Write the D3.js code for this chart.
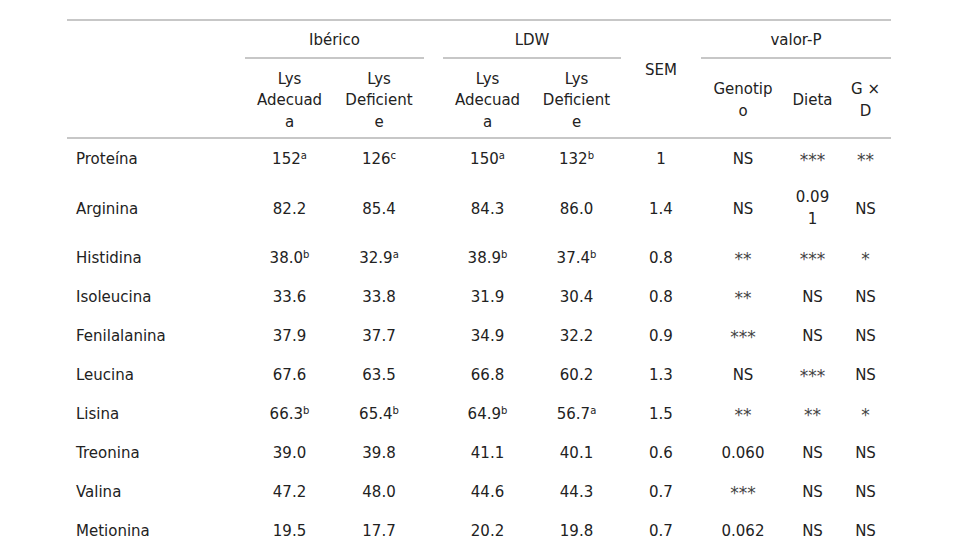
<!DOCTYPE html>
<html>
<head>
<meta charset="utf-8">
<script src="https://cdn.jsdelivr.net/npm/d3@7"></script>
<style>
  html, body { margin: 0; padding: 0; background: #fff; }
  svg text { font-family: "DejaVu Sans", Verdana, sans-serif; fill: #222; }
</style>
</head>
<body>
<svg id="chart" width="980" height="560"></svg>
<script>
// ---- data ----
const aminoacids = ["Proteína","Arginina","Histidina","Isoleucina","Fenilalanina","Leucina","Lisina","Treonina","Valina","Metionina"];
const ibAdec    = ["152","82.2","38.0","33.6","37.9","67.6","66.3","39.0","47.2","19.5"];
const ibAdecSup = ["a","","b","","","","b","","",""];
const ibDef     = ["126","85.4","32.9","33.8","37.7","63.5","65.4","39.8","48.0","17.7"];
const ibDefSup  = ["c","","a","","","","b","","",""];
const ldwAdec   = ["150","84.3","38.9","31.9","34.9","66.8","64.9","41.1","44.6","20.2"];
const ldwAdecSup= ["a","","b","","","","b","","",""];
const ldwDef    = ["132","86.0","37.4","30.4","32.2","60.2","56.7","40.1","44.3","19.8"];
const ldwDefSup = ["b","","b","","","","a","","",""];
const sem       = ["1","1.4","0.8","0.8","0.9","1.3","1.5","0.6","0.7","0.7"];
const pGenotipo = ["NS","NS","**","**","***","NS","**","0.060","***","0.062"];
const pDieta    = ["***","0.091","***","NS","NS","***","**","NS","NS","NS"];
const pGxD      = ["**","NS","*","NS","NS","NS","*","NS","NS","NS"];

const groupLabels = ["Ibérico","LDW","valor-P"];
const subLabels   = ["Lys Adecuada","Lys Deficiente","Lys Adecuada","Lys Deficiente","SEM","Genotipo","Dieta","G × D"];

// ---- layout ----
const svg = d3.select("#chart");
const FS = 15, LH = 21.5;
const colKeys = ["ia","id","la","ld","sem","gen","die","gxd"];
const colEdges = [[245,334],[334,424],[443,532],[532,621],[621,701],[701,785],[785,840],[840,891]];
const colInner = [72,72,72,72,60,64,41.5,38];
const xCenter = d3.scaleOrdinal(colKeys, colEdges.map(e => (e[0]+e[1])/2));
const xWrap = d3.scaleOrdinal(colKeys, colInner);

const tableLeft = 67, tableRight = 891;
const yTop = 20, yGroupLine = 58, yHeadBottom = 138;

// text measurement
const meas = svg.append("text").attr("font-size", FS).attr("x", -1000).attr("y", -1000);
function w(s){ meas.text(s); return meas.node().getComputedTextLength(); }
function wrap(str, maxW){
  const words = str.split(" ");
  const lines = [];
  let cur = "";
  words.forEach(word => {
    const cand = cur ? cur + " " + word : word;
    if (w(cand) <= maxW) { cur = cand; return; }
    if (cur) { lines.push(cur); cur = ""; }
    let piece = "";
    for (const ch of word) {
      if (w(piece + ch) <= maxW || piece === "") piece += ch;
      else { lines.push(piece); piece = ch; }
    }
    cur = piece;
  });
  if (cur) lines.push(cur);
  return lines;
}

const lineG = svg.append("g").attr("stroke", "#b5b5b5").attr("stroke-width", 1.5);
function hline(x1,x2,y){ lineG.append("line").attr("x1",x1).attr("x2",x2).attr("y1",y).attr("y2",y); }
hline(tableLeft, tableRight, yTop);
hline(tableLeft, tableRight, yHeadBottom);
const groupSpans = [[245,424],[443,621],[701,891]];
groupSpans.forEach(s => hline(s[0], s[1], yGroupLine));

function mtext(g, lines, x, yc, anchor){
  const t = g.append("text").attr("font-size", FS).attr("text-anchor", anchor || "middle")
    .attr("dominant-baseline", "central");
  const y0 = yc - (lines.length - 1) * LH / 2;
  lines.forEach((ln, i) => t.append("tspan").attr("x", x).attr("y", y0 + i * LH).text(ln));
  return t;
}

const head = svg.append("g");
groupLabels.forEach((lab, i) => mtext(head, [lab], (groupSpans[i][0]+groupSpans[i][1])/2, 40));
subLabels.forEach((lab, i) => {
  const k = colKeys[i];
  if (k === "sem") { mtext(head, [lab], xCenter(k), 70); return; }
  mtext(head, wrap(lab, xWrap(k)), xCenter(k), 100);
});

// body
const cols = [
  {k:"ia", v:ibAdec, s:ibAdecSup},
  {k:"id", v:ibDef, s:ibDefSup},
  {k:"la", v:ldwAdec, s:ldwAdecSup},
  {k:"ld", v:ldwDef, s:ldwDefSup},
  {k:"sem", v:sem},
  {k:"gen", v:pGenotipo},
  {k:"die", v:pDieta},
  {k:"gxd", v:pGxD}
];
const rows = aminoacids.map((name, r) => {
  const cells = cols.map(c => ({k:c.k, v:c.v[r], s:c.s ? c.s[r] : "", lines: wrap(c.v[r], xWrap(c.k))}));
  const n = d3.max(cells, c => c.lines.length);
  return {name, cells, n, h: 39 + (n - 1) * LH};
});
const cum = d3.cumsum(rows, d => d.h);
const yScale = d3.scaleLinear().domain([0, cum[cum.length-1]]).range([yHeadBottom, yHeadBottom + cum[cum.length-1]]);
rows.forEach((row, r) => {
  const yc = yScale((r ? cum[r-1] : 0) + row.h / 2) + 1 + (row.n > 1 ? 1 : 0);
  const g = svg.append("g");
  mtext(g, [row.name], 76, yc, "start");
  row.cells.forEach(c => {
    if (c.lines.length > 1) { mtext(g, c.lines, xCenter(c.k), yc - 1.5); return; }
    const star = /^\*+$/.test(c.v);
    const t = g.append("text").attr("font-size", star ? 17 : FS).attr("text-anchor", "middle")
      .attr("dominant-baseline", "central").attr("x", xCenter(c.k)).attr("y", star ? yc + 1 : yc)
      .style("fill", star ? "#444" : null);
    t.append("tspan").text(c.v);
    if (c.s) t.append("tspan").attr("font-size", 10).attr("dy", -4).text(c.s);
  });
});
meas.remove();
</script>
</body>
</html>
